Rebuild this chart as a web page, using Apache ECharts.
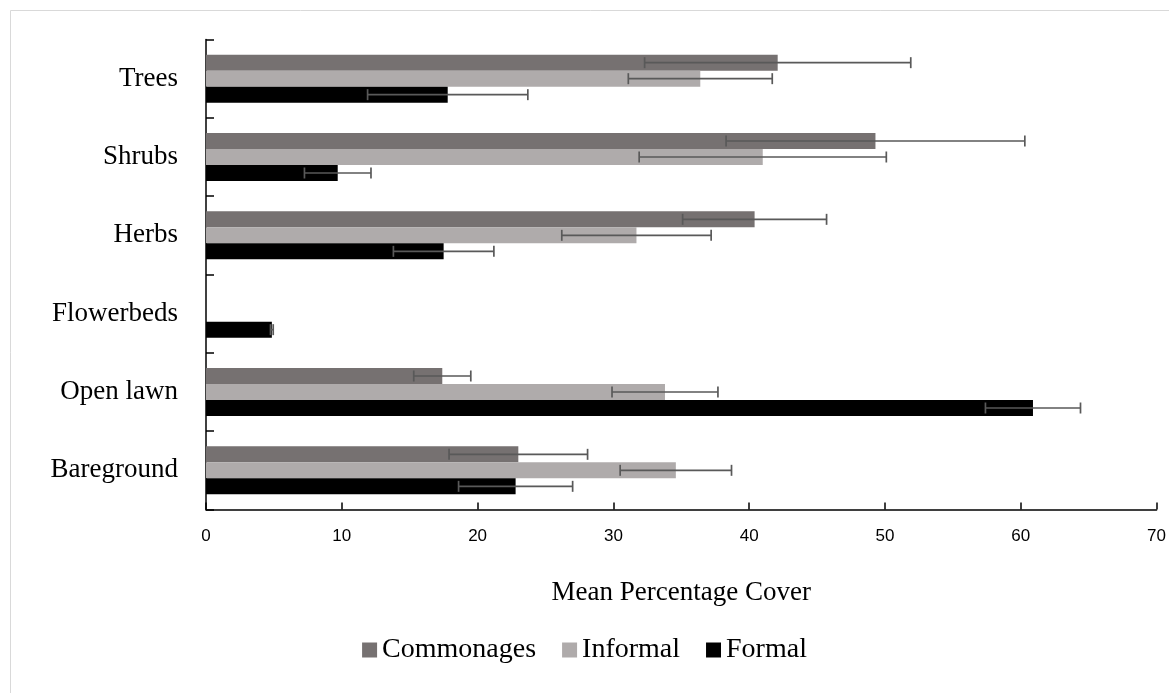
<!DOCTYPE html>
<html>
<head>
<meta charset="utf-8">
<title>Mean Percentage Cover</title>
<script src="https://cdn.jsdelivr.net/npm/echarts@6/dist/echarts.min.js"></script>
<style>
  html, body { margin: 0; padding: 0; background: #fff; }
  #chart { width: 1169px; height: 693px; }
</style>
</head>
<body>
<div id="chart"></div>
<script>
var categories = ['Trees', 'Shrubs', 'Herbs', 'Flowerbeds', 'Open lawn', 'Bareground'];
var commonages = [42.1, 49.3, 40.4, 0, 17.4, 23.0];
var commonagesErr = [9.8, 11.0, 5.3, 0, 2.1, 5.1];
var informal = [36.4, 41.0, 31.7, 0, 33.8, 34.6];
var informalErr = [5.3, 9.1, 5.5, 0, 3.9, 4.1];
var formal = [17.8, 9.7, 17.5, 4.85, 60.9, 22.8];
var formalErr = [5.9, 2.45, 3.7, 0.1, 3.5, 4.2];
var xTicks = [0, 10, 20, 30, 40, 50, 60, 70];

var colors = ['#767171', '#afabab', '#000000'];
var barW = 16;
var serif = '"Liberation Serif", "Times New Roman", serif';

function errData(vals, errs) {
    return vals.map(function(v, i) { return [i, v, errs[i]]; });
}

// error bar drawn for series k (0 = top bar in the group)
function errRender(k) {
    return function(params, api) {
        var cat = api.value(0), v = api.value(1), e = api.value(2);
        if (!e) return;
        var c = api.coord([v, cat]);
        var y = c[1] + (k - 1) * barW;
        var lo = api.coord([v - e, cat])[0];
        var hi = api.coord([v + e, cat])[0];
        var st = { stroke: '#595959', lineWidth: 1.7 };
        return {
            type: 'group',
            children: [
                { type: 'line', shape: { x1: lo, y1: y, x2: hi, y2: y }, style: st },
                { type: 'line', shape: { x1: lo, y1: y - 5.5, x2: lo, y2: y + 5.5 }, style: st },
                { type: 'line', shape: { x1: hi, y1: y - 5.5, x2: hi, y2: y + 5.5 }, style: st }
            ]
        };
    };
}

function barSeries(name, data, idx) {
    return {
        name: name,
        type: 'bar',
        data: data,
        barWidth: barW,
        barGap: '0%',
        itemStyle: { color: colors[idx] },
        z: 2
    };
}

function errSeries(vals, errs, k) {
    return {
        type: 'custom',
        data: errData(vals, errs),
        encode: { x: 1, y: 0 },
        renderItem: errRender(k),
        silent: true,
        z: 5
    };
}

var myChart = echarts.init(document.getElementById('chart'));
var option = {
    backgroundColor: '#fff',
    animation: false,
    color: colors,
    graphic: [{
        type: 'rect',
        shape: { x: 10.5, y: 10.5, width: 1200, height: 700 },
        style: { fill: 'none', stroke: '#d9d9d9', lineWidth: 1 },
        silent: true
    }],
    grid: {
        left: 206,
        right: 8,
        top: 39.5,
        bottom: 183.5
    },
    legend: {
        data: ['Commonages', 'Informal', 'Formal'],
        left: 'center',
        top: 631,
        icon: 'rect',
        itemWidth: 15,
        itemHeight: 15,
        itemGap: 26,
        textStyle: { fontFamily: serif, fontSize: 28, color: '#000' }
    },
    xAxis: {
        type: 'value',
        min: xTicks[0],
        max: xTicks[xTicks.length - 1],
        interval: 10,
        name: 'Mean Percentage Cover',
        nameLocation: 'middle',
        nameGap: 70,
        nameTextStyle: { fontFamily: serif, fontSize: 27, color: '#000' },
        axisLine: { show: true, lineStyle: { color: '#000', width: 1.5 } },
        axisTick: { show: true, inside: true, length: 7, lineStyle: { color: '#000', width: 1.5 } },
        axisLabel: { fontFamily: '"Liberation Sans", Arial, sans-serif', fontSize: 17, color: '#000', margin: 18 },
        splitLine: { show: false }
    },
    yAxis: {
        type: 'category',
        data: categories,
        inverse: true,
        axisLine: { show: true, lineStyle: { color: '#000', width: 1.5 } },
        axisTick: { show: true, inside: true, length: 8, lineStyle: { color: '#000', width: 1.5 } },
        axisLabel: { fontFamily: serif, fontSize: 27, color: '#000', margin: 28 },
        splitLine: { show: false }
    },
    series: [
        barSeries('Commonages', commonages, 0),
        barSeries('Informal', informal, 1),
        barSeries('Formal', formal, 2),
        errSeries(commonages, commonagesErr, 0),
        errSeries(informal, informalErr, 1),
        errSeries(formal, formalErr, 2)
    ]
};
myChart.setOption(option, true);
</script>
</body>
</html>
